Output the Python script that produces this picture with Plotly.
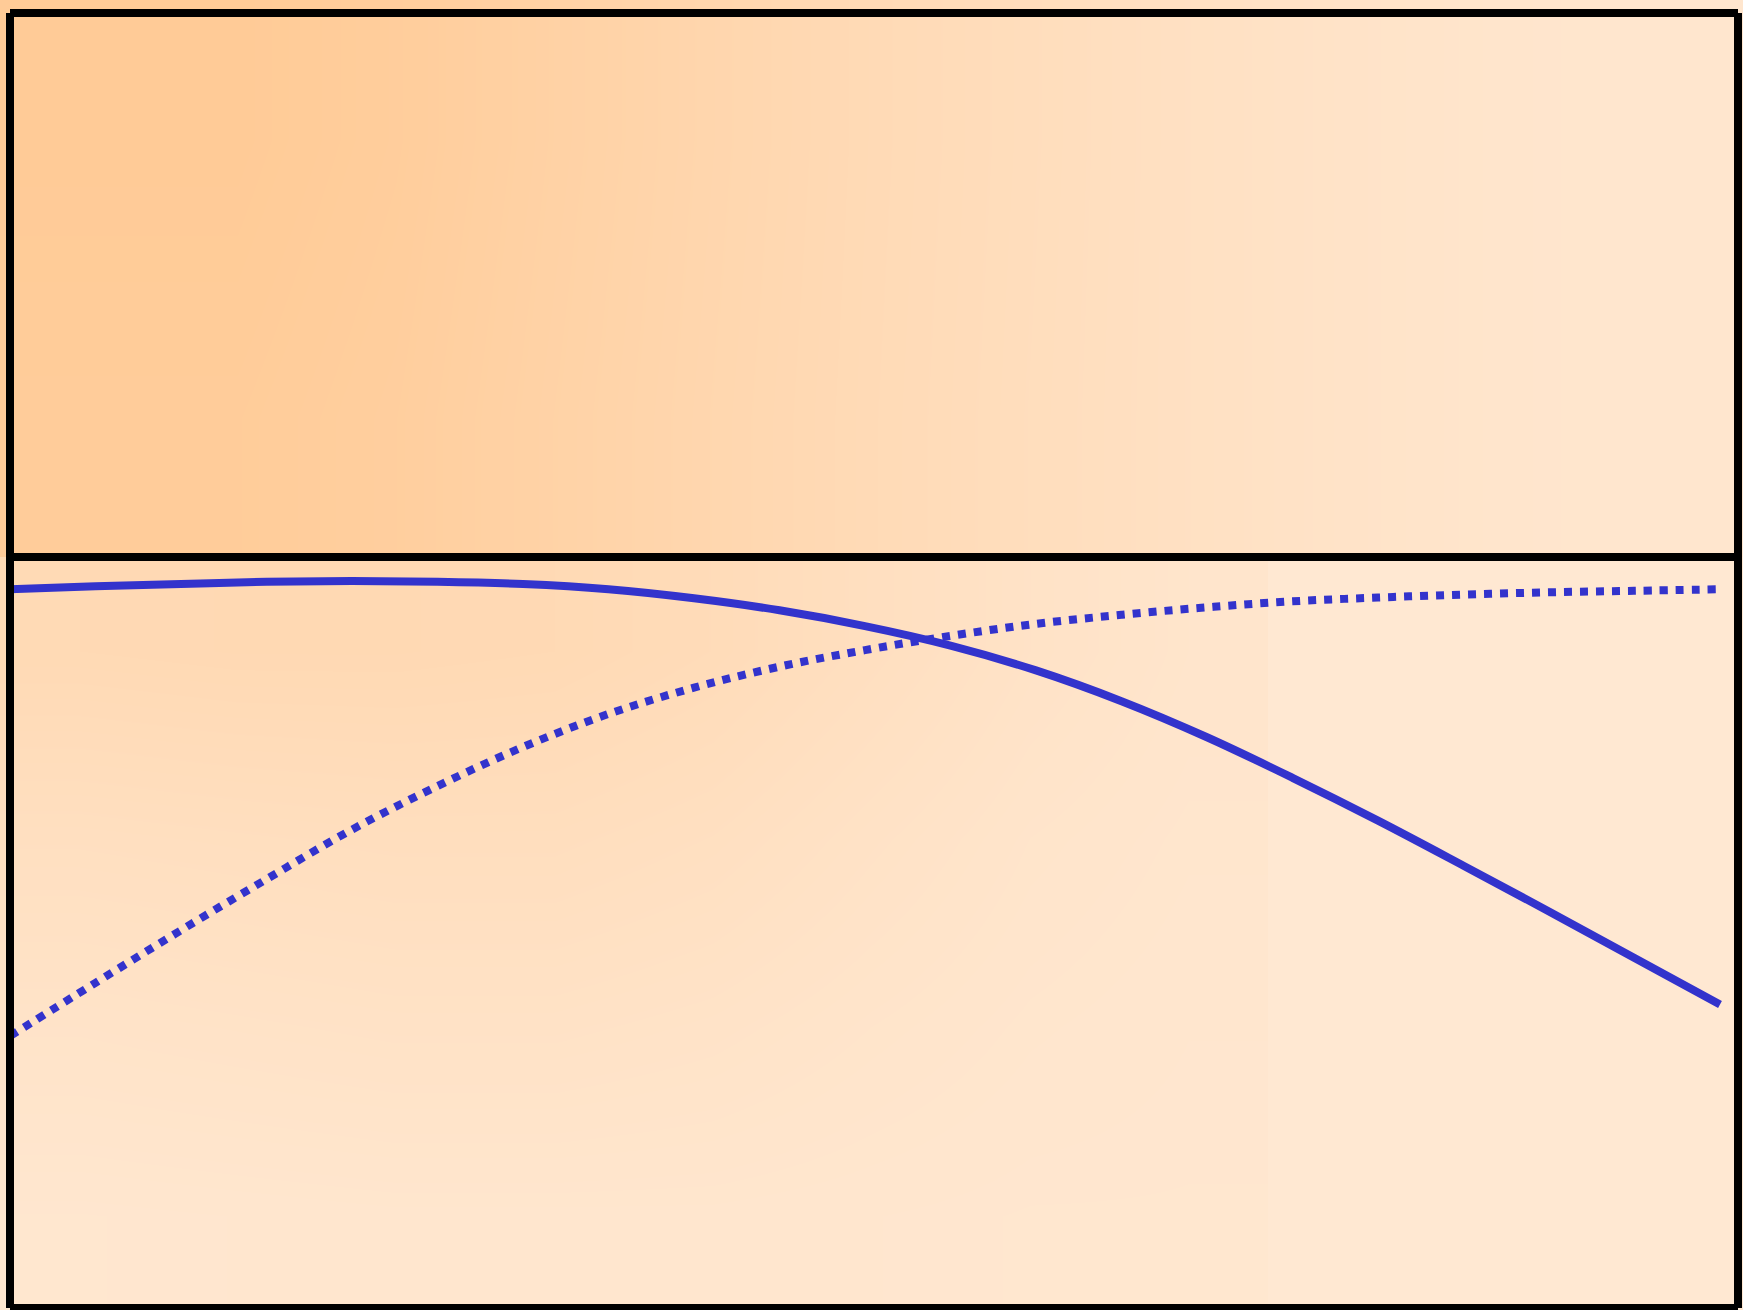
import plotly.graph_objects as go

W, H = 1743, 1310

# line series (x in data units, y as fraction of the lower panel height)
x_vals = [0, 0.5, 1, 1.5, 2, 2.5, 3, 3.5, 4, 4.5, 5,
          5.5, 6, 6.5, 7, 7.5, 8, 8.5, 9, 9.5, 10]
solid_vals = [0.957, 0.961, 0.964, 0.967, 0.968, 0.967, 0.964, 0.957, 0.945, 0.929, 0.908,
              0.882, 0.849, 0.808, 0.760, 0.706, 0.649, 0.589, 0.528, 0.466, 0.404]
dotted_vals = [0.362, 0.433, 0.503, 0.571, 0.637, 0.695, 0.747, 0.791, 0.826, 0.854, 0.876,
               0.895, 0.911, 0.923, 0.933, 0.941, 0.946, 0.950, 0.953, 0.955, 0.957]

# background shading levels (0 = light, 1 = dark)
top_shade = [
    [0.95, 0.95, 0.88, 0.74, 0.60, 0.47, 0.36, 0.26, 0.17, 0.10, 0.06],
    [1.00, 1.00, 0.92, 0.77, 0.62, 0.48, 0.37, 0.26, 0.17, 0.10, 0.06],
]
bottom_shade = [
    [0.05, 0.06, 0.07, 0.07, 0.07, 0.06, 0.05, 0.05],
    [0.16, 0.18, 0.20, 0.20, 0.17, 0.12, 0.08, 0.06],
    [0.30, 0.32, 0.34, 0.34, 0.29, 0.20, 0.12, 0.08],
    [0.50, 0.52, 0.52, 0.50, 0.43, 0.31, 0.19, 0.11],
]
shade_scale = [[0, "#FFE8D2"], [1, "#FFCB97"]]

line_color = "#3333CC"

# pixel layout of the frame
left_px, right_px = 10, 1738
top_px, mid_px, bottom_px = 13, 557, 1308

fig = go.Figure()

fig.add_trace(go.Heatmap(z=top_shade, colorscale=shade_scale, zmin=0, zmax=1,
                         zsmooth="best", showscale=False, hoverinfo="skip",
                         xaxis="x", yaxis="y"))
fig.add_trace(go.Heatmap(z=bottom_shade, colorscale=shade_scale, zmin=0, zmax=1,
                         zsmooth="best", showscale=False, hoverinfo="skip",
                         xaxis="x", yaxis="y2"))

fig.add_trace(go.Scatter(x=x_vals, y=solid_vals, mode="lines",
                         line=dict(color=line_color, width=8, shape="spline"),
                         xaxis="x2", yaxis="y3", showlegend=False))
fig.add_trace(go.Scatter(x=x_vals, y=dotted_vals, mode="lines",
                         line=dict(color=line_color, width=8, dash="dot", shape="spline"),
                         xaxis="x2", yaxis="y3", showlegend=False))

mid_paper = (H - mid_px) / H
px_per_x = (1720 - left_px) / 10

fig.update_layout(
    width=W, height=H,
    margin=dict(l=0, r=0, t=0, b=0),
    paper_bgcolor="#FFE8D2",
    plot_bgcolor="rgba(0,0,0,0)",
    showlegend=False,
    xaxis=dict(domain=[0, 1], range=[-0.5, 10.5], visible=False, fixedrange=True),
    yaxis=dict(domain=[mid_paper, 1], range=[-0.5, 1.5], visible=False, fixedrange=True),
    yaxis2=dict(domain=[0, mid_paper], range=[-0.5, 3.5], visible=False, fixedrange=True),
    xaxis2=dict(domain=[0, 1], range=[-left_px / px_per_x, (W - left_px) / px_per_x],
                visible=False, anchor="y3", fixedrange=True),
    yaxis3=dict(domain=[(H - bottom_px) / H, mid_paper], range=[0, 1], visible=False,
                anchor="x2", fixedrange=True),
)

# frame lines drawn separately (butt ends leave the small corner notches)
def frame_line(x0, y0, x1, y1):
    fig.add_shape(type="line", xref="paper", yref="paper",
                  x0=x0 / W, x1=x1 / W, y0=1 - y0 / H, y1=1 - y1 / H,
                  line=dict(color="black", width=8))

frame_line(left_px, top_px, right_px, top_px)
frame_line(left_px, top_px, left_px, bottom_px)
frame_line(right_px, top_px, right_px, bottom_px)
frame_line(left_px, bottom_px, right_px, bottom_px)
frame_line(left_px, mid_px, right_px, mid_px)

# page body margin off so the figure sits at the window corner
fig.write_html("out.html", config={"displayModeBar": False},
               post_script="document.body.style.margin='0';")
